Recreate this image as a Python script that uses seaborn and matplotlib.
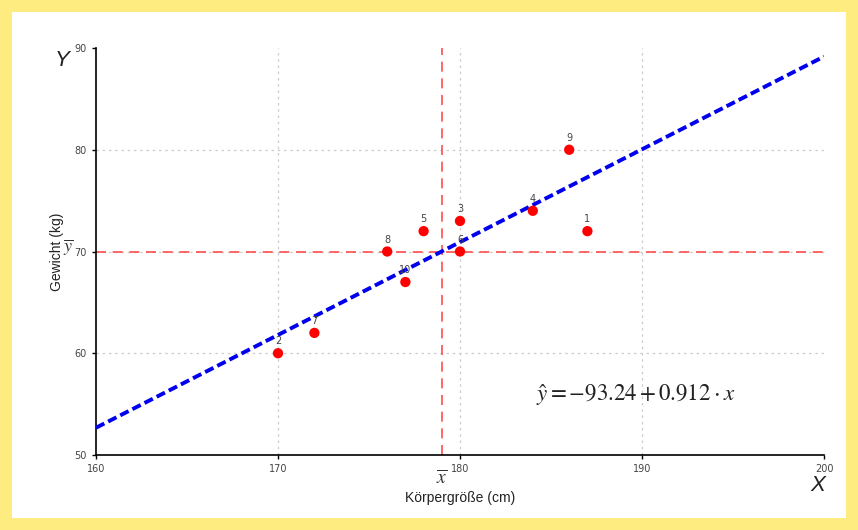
import matplotlib
matplotlib.use("Agg")
import matplotlib.pyplot as plt
import seaborn as sns
import pandas as pd
import numpy as np
from matplotlib.patches import Rectangle

# Data
labels = ["1", "2", "3", "4", "5", "6", "7", "8", "9", "10"]
height_cm = [187, 170, 180, 184, 178, 180, 172, 176, 186, 177]
weight_kg = [72, 60, 73, 74, 72, 70, 62, 70, 80, 67]
intercept = -93.24
slope = 0.912
line_x = [160, 200]
x_ticks = [160, 170, 180, 190, 200]
y_ticks = [50, 60, 70, 80, 90]

df = pd.DataFrame({"x": height_cm, "y": weight_kg, "label": labels})
x_mean = float(np.mean(height_cm))
y_mean = float(np.mean(weight_kg))

sns.set_theme(style="white")
plt.rcParams['font.family'] = ['DejaVu Sans']
plt.rcParams['mathtext.fontset'] = 'stix'

fig = plt.figure(figsize=(8.58, 5.30), dpi=100, facecolor="#FFEC80")
fig.patches.append(Rectangle((12/858, 12/530), 834/858, 506/530, transform=fig.transFigure,
                             facecolor="white", edgecolor="none", zorder=-10))
ax = fig.add_axes([96/858, 1-455/530, (824-96)/858, (455-48)/530])
ax.set_facecolor("none")
ax.set_zorder(1)

# grid
for gx in [170, 180, 190]:
    ax.axvline(gx, color="#cccccc", lw=0.9, ls=(0, (2, 3)), zorder=1)
for gy in [60, 70, 80]:
    ax.axhline(gy, color="#cccccc", lw=0.9, ls=(0, (2, 3)), zorder=1)

# mean lines
ax.axvline(x_mean, color="#ff4d4d", lw=1.2, ls=(0, (6, 4)), zorder=2)
ax.axhline(y_mean, color="#ff4d4d", lw=1.2, ls=(0, (6, 4)), zorder=2)

# regression line
ly = [intercept + slope * v for v in line_x]
sns.lineplot(x=line_x, y=ly, ax=ax, color="#0000ee", lw=2.8, zorder=3)
ax.lines[-1].set_linestyle((0, (2.4, 1.1)))

sns.scatterplot(data=df, x="x", y="y", ax=ax, color="#ff0000", s=55, edgecolor="none", zorder=4)
for _, r in df.iterrows():
    ax.annotate(r["label"], (r["x"], r["y"]), xytext=(0, 5), textcoords="offset points",
                ha="center", va="bottom", fontsize=7, color="#444444", zorder=5)

ax.set_xlim(160, 200)
ax.set_ylim(50, 90)
ax.set_xticks(x_ticks)
ax.set_yticks(y_ticks)
ax.tick_params(axis="both", labelsize=7, labelcolor="#444444", length=3, color="black",
               direction="out", bottom=True, left=True, width=1)
for s in ["top", "right"]:
    ax.spines[s].set_visible(False)
for s in ["left", "bottom"]:
    ax.spines[s].set_color("black")
    ax.spines[s].set_linewidth(1.2)

ax.set_xlabel("Körpergröße (cm)", fontsize=10, color="#222222", family=["Liberation Sans", "DejaVu Sans"])
ax.set_ylabel("Gewicht (kg)", fontsize=10, color="#222222", family=["Liberation Sans", "DejaVu Sans"])
ax.xaxis.set_label_coords(0.5, -0.088)
ax.yaxis.set_label_coords(-0.044, 0.5)

ax.text(x_mean, 47.75, r"$\overline{x}$", ha="center", va="center", fontsize=14, color="#333333")
ax.text(158.46, 70.4, r"$\overline{y}$", ha="center", va="center", fontsize=13, color="#333333")
ax.text(158.13, 88.8, "Y", ha="center", va="center", fontsize=16, color="#222222",
        style="italic", family=["Liberation Sans", "DejaVu Sans"])
ax.text(199.67, 47.05, "X", ha="center", va="center", fontsize=16, color="#222222",
        style="italic", family=["Liberation Sans", "DejaVu Sans"])

ax.text(184.2, 55.9, r"$\hat{y} = -93.24 + 0.912 \cdot x$", fontsize=16.5, color="#222222",
        ha="left", va="center")

fig.savefig("out.png", dpi=100, facecolor=fig.get_facecolor())
